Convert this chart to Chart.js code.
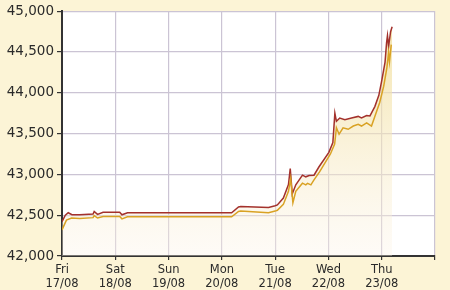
<!DOCTYPE html>
<html>
<head>
<meta charset="utf-8">
<script src="https://cdn.jsdelivr.net/npm/chart.js@4/dist/chart.umd.min.js"></script>
<style>
  html, body { margin: 0; padding: 0; background: #fcf4d6; }
  #wrap { width: 450px; height: 290px; }
</style>
</head>
<body>
<div id="wrap"><canvas id="goldchart"></canvas></div>
<script>
// hours since Fri 17/08 00:00
const dayNames = ["Fri", "Sat", "Sun", "Mon", "Tue", "Wed", "Thu", ""];
const dayDates = ["17/08", "18/08", "19/08", "20/08", "21/08", "22/08", "23/08", ""];

const sellHours = [0, 1.5, 2.8, 4.5, 8, 14, 14.5, 16, 18.5, 26, 27, 29.5, 76.4, 79.5, 80.5, 93, 96, 97, 99.7, 102, 102.8, 103.7, 105.3, 108.3, 109.8, 111.3, 113.5, 115.7, 120.2, 122, 122.9, 123.6, 125.1, 127.4, 130.4, 133.4, 134.9, 137.2, 138.7, 140.9, 142.7, 144.1, 145.5, 146.2, 146.6, 147.1, 148, 148.7];
const sellPrices = [42420, 42500, 42530, 42505, 42505, 42515, 42545, 42510, 42535, 42535, 42505, 42530, 42530, 42600, 42605, 42595, 42615, 42625, 42710, 42876, 43070, 42760, 42872, 42990, 42970, 42985, 42990, 43090, 43270, 43390, 43750, 43650, 43690, 43670, 43690, 43710, 43690, 43720, 43716, 43830, 43968, 44160, 44376, 44616, 44700, 44568, 44748, 44808];

const buyHours = [0, 2, 4.3, 8, 14, 14.5, 16, 18.5, 26, 27, 29.5, 76.4, 79.5, 80.5, 93, 96, 97, 99.7, 102, 103, 104, 105.3, 108.3, 109.8, 110.6, 112.1, 113.5, 116, 120.9, 122.8, 123.6, 124.8, 126.6, 128.9, 131.2, 133.4, 134.9, 137.2, 139.4, 140.9, 143.1, 144.9, 146.3, 147.1, 147.5, 148.3];
const buyPrices = [42320, 42440, 42464, 42460, 42470, 42495, 42465, 42485, 42485, 42455, 42480, 42480, 42545, 42550, 42530, 42550, 42560, 42632, 42792, 42950, 42652, 42792, 42892, 42872, 42890, 42872, 42932, 43030, 43250, 43372, 43572, 43492, 43570, 43552, 43592, 43612, 43592, 43632, 43592, 43710, 43880, 44080, 44300, 44490, 44380, 44590];

const yTicks = [42000, 42500, 43000, 43500, 44000, 44500, 45000];

function toPoints(xs, ys) {
  return xs.map((h, i) => ({ x: h, y: ys[i] }));
}

// cream fill under the upper line
function fillGrad(ctx) {
  const area = ctx.chart.chartArea;
  if (!area) return "rgba(245,230,180,0.5)";
  const g = ctx.chart.ctx.createLinearGradient(0, area.top, 0, area.bottom);
  g.addColorStop(0, "rgba(240,220,150,0.85)");
  g.addColorStop(0.45, "rgba(245,230,180,0.6)");
  g.addColorStop(1, "rgba(252,244,232,0.35)");
  return g;
}

new Chart("goldchart", {
  type: "line",
  data: {
    datasets: [
      {
        data: toPoints(sellHours, sellPrices),
        borderColor: "#a3312c",
        borderWidth: 1.5,
        pointRadius: 0,
        fill: "start",
        backgroundColor: fillGrad,
        order: 2
      },
      {
        data: toPoints(buyHours, buyPrices),
        borderColor: "#d9a224",
        borderWidth: 1.5,
        pointRadius: 0,
        fill: false,
        order: 1
      }
    ]
  },
  options: {
    responsive: true,
    maintainAspectRatio: false,
    animation: false,
    layout: { padding: { top: 6, right: 15, left: 0, bottom: 0 } },
    plugins: { legend: { display: false }, tooltip: { enabled: false } },
    scales: {
      x: {
        type: "linear",
        min: 0,
        max: 168,
        afterFit: (s) => { s.height = 34; },
        afterBuildTicks: (s) => { s.ticks = [0, 24, 48, 72, 96, 120, 144, 168].map(v => ({ value: v })); },
        ticks: {
          autoSkip: false,
          maxRotation: 0,
          padding: 3,
          color: "#2a2a2a",
          font: { family: "DejaVu Sans", size: 11.5, lineHeight: 1.2 },
          callback: (v) => {
            const i = Math.round(v / 24);
            return dayNames[i] ? [dayNames[i], dayDates[i]] : "";
          }
        },
        grid: { color: "#cbc4d4", lineWidth: 1.2, tickColor: "#333", tickLength: 4 },
        border: { color: "#333", width: 2 }
      },
      y: {
        min: 42000,
        max: 45000,
        afterFit: (s) => { s.width = 62; },
        afterBuildTicks: (s) => { s.ticks = yTicks.map(v => ({ value: v })); },
        ticks: {
          padding: 3,
          color: "#2a2a2a",
          font: { family: "DejaVu Sans", size: 13.5 },
          callback: (v) => v.toLocaleString("en-US")
        },
        grid: { color: "#cbc4d4", lineWidth: 1.2, tickColor: "#333", tickLength: 5 },
        border: { color: "#333", width: 2 }
      }
    }
  },
  plugins: [{
    id: "plotBg",
    beforeDraw(chart) {
      const { ctx, chartArea: a } = chart;
      ctx.save();
      ctx.fillStyle = "#ffffff";
      ctx.fillRect(a.left, a.top, a.right - a.left, a.bottom - a.top);
      ctx.restore();
    }
  }]
});
</script>
</body>
</html>
